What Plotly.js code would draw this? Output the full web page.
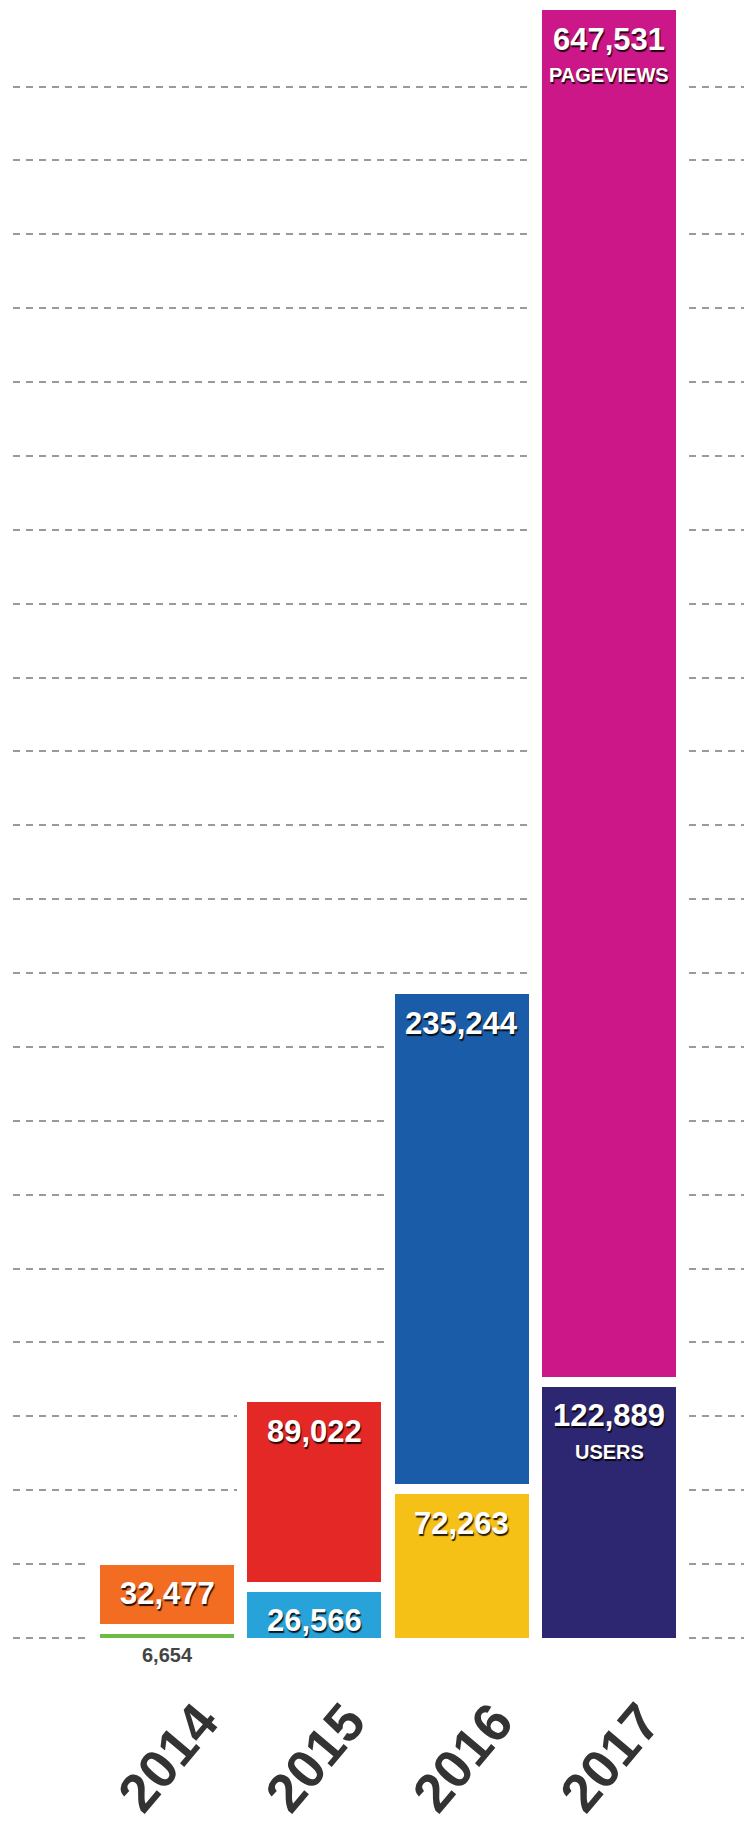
<!DOCTYPE html>
<html>
<head>
<meta charset="utf-8">
<script src="https://cdn.plot.ly/plotly-3.0.1.min.js"></script>
<style>
html,body{margin:0;padding:0;background:#ffffff;}
#chart{width:744px;height:1828px;}
</style>
</head>
<body>
<div id="chart"></div>
<script>
// ---- data ----
const years = ['2014', '2015', '2016', '2017'];
const users = [6654, 26566, 72263, 122889];
const pageviews = [32477, 89022, 235244, 647531];
const usersTag = ['', '', '', 'USERS'];
const pageviewsTag = ['', '', '', 'PAGEVIEWS'];

// ---- styles ----
const userColors = ['#6cbb45', '#28a3da', '#f5c117', '#2d2772'];
const pvColors = ['#f26c22', '#e32826', '#1b5ca8', '#cc1788'];
const FONT = 'Liberation Sans, Arial, Helvetica, sans-serif';
const W = 744, H = 1828;
const zeroPx = 1643;         // px from top of plot area to the zero line
const topPad = 5;            // px between the tallest stack and the top
const gridPitchPx = 73.88;   // px between dashed gridlines
const gridOffsetPx = 5;      // lowest gridline sits this many px above zero
const nGrid = 22;

const totals = users.map((u, i) => u + pageviews[i]);
const yMax = Math.max(...totals) * zeroPx / (zeroPx - topPad);
const perPx = yMax / zeroPx;
const gridVals = Array.from({length: nGrid}, (_, k) => (gridOffsetPx + k * gridPitchPx) * perPx);

const fmt = v => v.toLocaleString('en-US');
const labelFont = {family: FONT, size: 31, color: '#ffffff', weight: 'bold',
                   shadow: '1px 2px 1px rgba(0,0,0,0.85)'};
const tagFont = Object.assign({}, labelFont, {size: 20});

const traceUsers = {
  type: 'bar', name: 'Users', x: years, y: users, textposition: 'none',
  marker: {color: userColors, line: {color: '#ffffff', width: 10}},
  hoverinfo: 'skip'
};
const tracePV = {
  type: 'bar', name: 'Pageviews', x: years, y: pageviews, textposition: 'none',
  marker: {color: pvColors, line: {color: '#ffffff', width: 10}},
  hoverinfo: 'skip'
};

// value labels placed at the top of each stacked segment (x = category index)
const annotations = [];
years.forEach((yr, i) => {
  const segs = [
    {top: users[i], val: users[i], tag: usersTag[i]},
    {top: users[i] + pageviews[i], val: pageviews[i], tag: pageviewsTag[i]}
  ];
  segs.forEach((s, j) => {
    if (i === 0 && j === 0) return; // smallest segment gets its label underneath
    annotations.push({x: i, y: s.top, xref: 'x', yref: 'y', text: fmt(s.val),
      showarrow: false, yanchor: 'middle', yshift: -34, font: labelFont});
    if (s.tag) {
      annotations.push({x: i, y: s.top, xref: 'x', yref: 'y', text: s.tag,
        showarrow: false, yanchor: 'middle', yshift: -70, font: tagFont});
    }
  });
});
annotations.push({
  x: 0, y: 0, xref: 'x', yref: 'y', text: fmt(users[0]),
  showarrow: false, yanchor: 'middle', yshift: -12,
  font: {family: FONT, size: 20, color: '#444444', weight: 'bold'}
});

const layout = {
  width: W, height: H, autosize: false,
  margin: {l: 13, r: 0, t: 0, b: H - zeroPx - 1, pad: 0},
  paper_bgcolor: '#ffffff', plot_bgcolor: '#ffffff',
  barmode: 'stack', bargap: 0.023,
  showlegend: false,
  xaxis: {
    type: 'category', categoryorder: 'array', categoryarray: years,
    range: [-1.0448, 3.914],
    showgrid: false, zeroline: false, showline: false, ticks: '',
    tickangle: -50,
    ticklabelshift: 33, ticklabelstandoff: 34,
    tickfont: {family: FONT, size: 54, color: '#333333', weight: 'bold'},
    fixedrange: true
  },
  yaxis: {
    range: [-perPx, yMax],
    showticklabels: false, ticks: '', zeroline: false, showline: false,
    showgrid: true, gridcolor: '#9a9a9a', gridwidth: 2, griddash: '7px,6px',
    tickmode: 'array', tickvals: gridVals,
    fixedrange: true
  },
  annotations: annotations
};

Plotly.newPlot('chart', [traceUsers, tracePV], layout, {displayModeBar: false, staticPlot: true});
</script>
</body>
</html>
